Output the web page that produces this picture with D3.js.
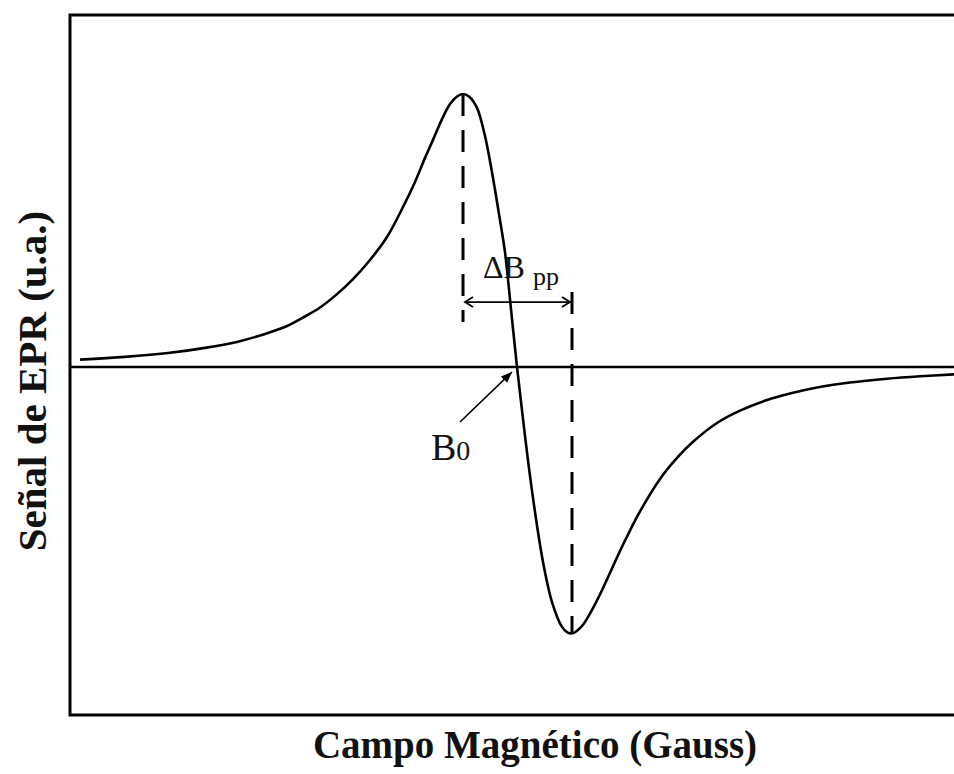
<!DOCTYPE html>
<html>
<head>
<meta charset="utf-8">
<script src="https://cdn.jsdelivr.net/npm/d3@7"></script>
<style>
  html, body { margin: 0; padding: 0; background: #fff; }
  svg { display: block; }
  text { font-family: "Liberation Serif", "Times New Roman", serif; fill: #111; }
</style>
</head>
<body>
<svg id="chart" width="954" height="774"></svg>
<script>
// First-derivative EPR absorption line: magnetic field (G) vs signal (a.u.)
const field = [
  3340.75, 3352, 3363.25, 3372, 3380, 3387, 3392.5, 3397, 3400.75, 3405,
  3409, 3413.25, 3417.5, 3421.5, 3424.5, 3427, 3429, 3431.25, 3433.25, 3435,
  3436.5, 3438, 3440, 3442, 3444, 3445.5, 3447, 3448.5, 3450, 3451.5,
  3452.75, 3454.5, 3456.5, 3458.75, 3461.25, 3462.5, 3463.75, 3465, 3466.5, 3469,
  3471.5, 3475, 3477.5, 3480.75, 3485.75, 3490, 3494, 3500, 3505.75, 3512.5,
  3518.25, 3525, 3533.25, 3542.5, 3550.75, 3559.25
];
const signal = [
  0.027, 0.037, 0.052, 0.070, 0.092, 0.121, 0.150, 0.185, 0.218, 0.267,
  0.322, 0.392, 0.476, 0.586, 0.678, 0.766, 0.832, 0.908, 0.963, 0.991,
  1.000, 0.991, 0.949, 0.846, 0.692, 0.560, 0.421, 0.212, 0.000, -0.190,
  -0.342, -0.531, -0.714, -0.861, -0.952, -0.971, -0.976, -0.966, -0.944, -0.883,
  -0.810, -0.698, -0.621, -0.529, -0.410, -0.333, -0.274, -0.205, -0.160, -0.121,
  -0.097, -0.075, -0.057, -0.043, -0.034, -0.027
];

// Characteristic fields of the line
const B0 = 3450;          // zero crossing
const Bmax = 3436.5;      // positive peak
const Bmin = 3463.75;     // negative peak
const peakSignal = 1.0;
const troughSignal = -0.976;

const xTitle = "Campo Magnético (Gauss)";
const yTitle = "Señal de EPR (u.a.)";

const svg = d3.select("#chart");
const plot = { left: 70, top: 15, right: 962, bottom: 715 };

const x = d3.scaleLinear().domain([3338.25, 3561.25]).range([plot.left, plot.right]);
const y = d3.scaleLinear().domain([-1.2747, 1.2894]).range([plot.bottom, plot.top]);

const data = field.map((b, i) => ({ b, s: signal[i] }));

// Frame (right side runs past the visible area)
svg.append("path")
  .attr("d", `M${plot.right},${plot.top} H${plot.left} V${plot.bottom} H${plot.right}`)
  .attr("fill", "none")
  .attr("stroke", "#000")
  .attr("stroke-width", 3);

// Zero baseline
svg.append("line")
  .attr("x1", plot.left).attr("x2", plot.right)
  .attr("y1", y(0)).attr("y2", y(0))
  .attr("stroke", "#000").attr("stroke-width", 2.6);

// Spectrum
const line = d3.line()
  .x(d => x(d.b))
  .y(d => y(d.s))
  .curve(d3.curveCatmullRom.alpha(0.5));

svg.append("path")
  .datum(data)
  .attr("d", line)
  .attr("fill", "none")
  .attr("stroke", "#000")
  .attr("stroke-width", 2.6)
  .attr("stroke-linejoin", "round");

// Dashed markers through the peaks
const arrowY = 0.238;
svg.append("line")
  .attr("x1", x(Bmax)).attr("x2", x(Bmax))
  .attr("y1", y(peakSignal)).attr("y2", y(0.165))
  .attr("stroke", "#000").attr("stroke-width", 3)
  .attr("stroke-dasharray", "22,14");
svg.append("line")
  .attr("x1", x(Bmin)).attr("x2", x(Bmin))
  .attr("y1", y(0.275)).attr("y2", y(troughSignal))
  .attr("stroke", "#000").attr("stroke-width", 3)
  .attr("stroke-dasharray", "22,14");

// Peak-to-peak width arrow
const defs = svg.append("defs");
defs.append("marker")
  .attr("id", "open-head")
  .attr("viewBox", "-10 -6 12 12")
  .attr("markerWidth", 12).attr("markerHeight", 12)
  .attr("markerUnits", "userSpaceOnUse")
  .attr("orient", "auto-start-reverse")
  .append("path")
  .attr("d", "M-8,-5 L0,0 L-8,5")
  .attr("fill", "none").attr("stroke", "#000").attr("stroke-width", 1.8);

defs.append("marker")
  .attr("id", "solid-head")
  .attr("viewBox", "-12 -6 14 12")
  .attr("markerWidth", 14).attr("markerHeight", 12)
  .attr("markerUnits", "userSpaceOnUse")
  .attr("orient", "auto")
  .append("path")
  .attr("d", "M-11,-4.5 L0,0 L-11,4.5 Z")
  .attr("fill", "#000");

svg.append("line")
  .attr("x1", x(Bmax) + 2).attr("x2", x(Bmin) - 2)
  .attr("y1", y(arrowY)).attr("y2", y(arrowY))
  .attr("stroke", "#000").attr("stroke-width", 1.8)
  .attr("marker-start", "url(#open-head)")
  .attr("marker-end", "url(#open-head)");

svg.append("text")
  .attr("x", 483).attr("y", 278)
  .attr("font-size", 32)
  .text("ΔB");
svg.append("text")
  .attr("x", 533).attr("y", 285)
  .attr("font-size", 26)
  .text("pp");

// B0 label with arrow to the zero crossing
svg.append("line")
  .attr("x1", 460).attr("y1", 422)
  .attr("x2", x(B0) - 5).attr("y2", y(0) + 5)
  .attr("stroke", "#000").attr("stroke-width", 1.6)
  .attr("marker-end", "url(#solid-head)");

const b0 = svg.append("text")
  .attr("x", 431).attr("y", 460);
b0.append("tspan").attr("font-size", 38).text("B");
b0.append("tspan").attr("font-size", 28).text("0");

// Axis titles
svg.append("text")
  .attr("x", 535).attr("y", 758)
  .attr("text-anchor", "middle")
  .attr("font-size", 39)
  .attr("font-weight", "bold")
  .text(xTitle);

svg.append("text")
  .attr("transform", "translate(46,381) rotate(-90)")
  .attr("text-anchor", "middle")
  .attr("font-size", 41)
  .attr("font-weight", "bold")
  .text(yTitle);
</script>
</body>
</html>
